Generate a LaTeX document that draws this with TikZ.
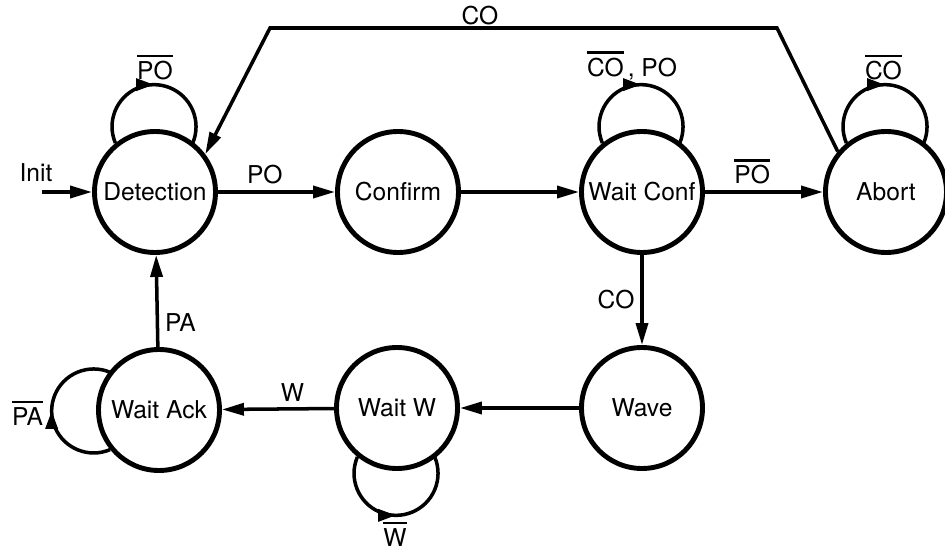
\documentclass[tikz,border=0pt]{standalone}
\usepackage{fontspec}
\setmainfont{TeX Gyre Heros}
\usetikzlibrary{arrows.meta,calc,decorations.markings}
\newcommand{\nsig}[1]{\leavevmode\vbox{\hrule height 1.4pt\kern 2.2pt\hbox{#1}}}

\begin{document}
\begin{tikzpicture}[
  >={Triangle[length=4.4mm,width=2.4mm]},
  every node/.style={font=\fontsize{14}{16}\selectfont},
  state/.style={draw,circle,line width=2.8pt,minimum size=2.42cm,inner sep=0pt,fill=white},
  trans/.style={->,line width=2pt},
  selfloop/.style={line width=2pt,
    decoration={markings,mark=at position 0.5 with {\arrow{Triangle[length=3.6mm,width=2.4mm]}}},
    postaction={decorate}}
]
  \useasboundingbox (0,0) rectangle (18.9,11.02);
  % states
  \node[state] (det) at (3.10,7.18) {Detection};
  \node[state] (conf) at (7.96,7.18) {Confirm};
  \node[state] (wconf) at (12.84,7.18) {Wait Conf};
  \node[state] (abort) at (17.72,7.18) {Abort};
  \node[state] (wave) at (12.84,2.86) {Wave};
  \node[state] (waitw) at (7.94,2.86) {Wait W};
  \node[state] (wack) at (3.18,2.82) {Wait Ack};
  \coordinate (init) at (0.84,7.18);
  \coordinate (coR) at (15.54,10.46);
  \coordinate (coL) at (5.40,10.46);
  % transitions
  \draw[trans] (init) -- (det);
  \node (initlbl) at (0.72,7.56) {Init};
  \draw[trans] (det) -- node[above,pos=0.4] {PO} (conf);
  \draw[trans] (conf) -- (wconf);
  \draw[trans] (wconf) -- node[above,pos=0.4] {\nsig{PO}} (abort);
  \draw[trans] (wconf) -- node[left] {CO} (wave);
  \draw[trans] (wave) -- (waitw);
  \draw[trans] (waitw) -- node[above,pos=0.37] {W} (wack);
  \draw[trans] (wack) -- node[right,pos=0.27] {PA} (det);
  \draw[trans] (abort.140) -- (coR) -- node[above,pos=0.586,inner sep=1pt] {CO} (coL) -- (det.37);
  % self loops
  \draw[selfloop] (det.129) arc[start angle=203,end angle=-23,radius=0.84];
  \node[above] (detlbl) at ($(det.center)+(0,2.12)$) {\nsig{PO}};
  \draw[selfloop] (wconf.129) arc[start angle=203,end angle=-23,radius=0.84];
  \node[above] (wconflbl) at ($(wconf.center)+(-0.2,2.12)$) {\nsig{CO}\,, PO};
  \draw[selfloop] (abort.129) arc[start angle=203,end angle=-23,radius=0.84];
  \node[above] (abortlbl) at ($(abort.center)+(-0.05,2.12)$) {\nsig{CO}};
  \draw[selfloop] (wack.219) arc[start angle=293,end angle=67,radius=0.84];
  \node (wacklbl) at (0.55,2.76) {\nsig{PA}};
  \draw[selfloop] (waitw.231) arc[start angle=157,end angle=383,radius=0.84];
  \node (waitwlbl) at (7.9,0.34) {\nsig{W}};
\end{tikzpicture}
\end{document}
